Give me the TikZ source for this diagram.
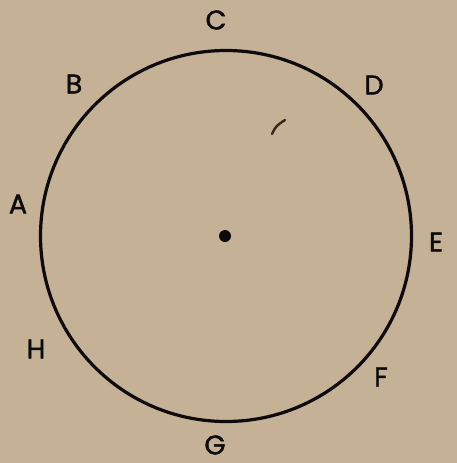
\documentclass[tikz,border=0pt]{standalone}
\usepackage{fontspec}
\setmainfont{Poppins}
\newfontfamily\lblfont{Poppins}[FakeBold=1.6]
\definecolor{paper}{RGB}{196,177,150}
\definecolor{ink}{RGB}{12,10,10}
\definecolor{stain}{RGB}{60,35,28}
\begin{document}
\begin{tikzpicture}[x=1pt,y=-1pt,
  lbl/.style={font=\lblfont\fontsize{27}{27}\selectfont, text=ink, inner sep=0pt, anchor=center}]
\fill[paper] (0,0) rectangle (457,463);
\useasboundingbox (0,0) rectangle (457,463);
\node[draw=ink, line width=3.2pt, circle, minimum size=371pt, inner sep=0pt] (ring) at (226,236) {};
\node[fill=ink, circle, minimum size=12pt, inner sep=0pt] (centre) at (225,236) {};
\node[lbl] (A) at (18,204) {A};
\node[lbl] (B) at (74,84) {B};
\node[lbl] (C) at (216,20) {C};
\node[lbl] (D) at (374,85) {D};
\node[lbl] (E) at (436,242) {E};
\node[lbl] (F) at (381,377) {F};
\node[lbl] (G) at (215,445) {G};
\node[lbl] (H) at (36,349) {H};
\draw[stain, line width=2.4pt, line cap=round] (272,134) .. controls (276,126) .. (285,120);
\end{tikzpicture}
\end{document}
